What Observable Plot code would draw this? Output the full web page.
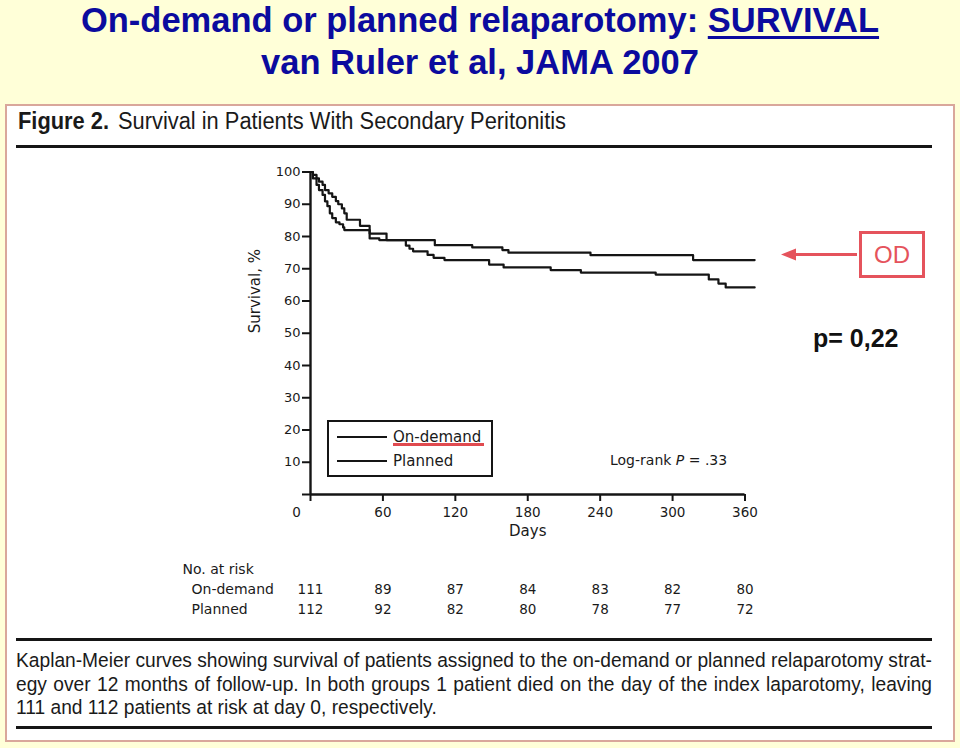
<!DOCTYPE html>
<html>
<head>
<meta charset="utf-8">
<script src="https://cdn.jsdelivr.net/npm/d3@7"></script>
<script src="https://cdn.jsdelivr.net/npm/@observablehq/plot@0.6"></script>
<style>
html, body { margin: 0; padding: 0; }
body { width: 960px; height: 748px; background: #FFFFD8; position: relative; overflow: hidden;
  font-family: "Liberation Sans", Arial, sans-serif; }
.abs { position: absolute; }
#title { left: 0; top: -1px; width: 960px; text-align: center; color: #0b0b9e; font-weight: bold;
  font-size: 34.5px; line-height: 42px; }
#title u { text-decoration-thickness: 3px; text-underline-offset: 4px; }
#panel { left: 5px; top: 104px; width: 946px; height: 634px; border: 2px solid #d9a79b; background: #fff; }
#fighead { left: 18px; top: 107px; font-size: 23px; line-height: 28px; color: #1a1a1a; white-space: nowrap; transform-origin: 0 0; }
#fighead b { margin-right: 3px; }
.rule { left: 16px; width: 916px; height: 3px; background: #151515; }
.cap { left: 16px; font-size: 20.5px; line-height: 24px; color: #1a1a1a; white-space: nowrap; transform-origin: 0 0; }
#chart { left: 0; top: 150px; }
#legend { left: 327px; top: 420px; width: 162px; height: 53px; border: 2.5px solid #151515; }
.lline { width: 50px; height: 2px; background: #151515; left: 337px; }
.ltext { left: 393px; font-family: "DejaVu Sans", sans-serif; font-size: 15px; line-height: 18px; color: #1a1a1a; }
#redline { left: 393px; top: 443px; width: 91px; height: 2.5px; background: #e04a4f; }
#logrank { left: 610px; top: 451px; font-family: "DejaVu Sans", sans-serif; font-size: 14px; line-height: 18px; color: #1a1a1a; white-space: nowrap; }
#odbox { left: 859px; top: 231px; width: 60px; height: 41px; border: 3px solid #e5535c; color: #e5535c;
  font-size: 24px; line-height: 41px; text-align: center; }
#pval { left: 813px; top: 323px; font-weight: bold; font-size: 25px; line-height: 30px; color: #111; white-space: nowrap; }
</style>
</head>
<body>
<div id="title" class="abs">On-demand or planned relaparotomy: <u>SURVIVAL</u><br>van Ruler et al, JAMA 2007</div>
<div id="panel" class="abs"></div>
<div id="fighead" class="abs"><b>Figure 2.</b> Survival in Patients With Secondary Peritonitis</div>
<div class="abs rule" style="top:145px"></div>
<div id="chart" class="abs"></div>
<div id="legend" class="abs"></div>
<div class="abs lline" style="top:436px"></div>
<div class="abs lline" style="top:460px"></div>
<div class="abs ltext" style="top:428px">On-demand</div>
<div class="abs ltext" style="top:452px">Planned</div>
<div id="redline" class="abs"></div>
<div id="logrank" class="abs">Log-rank <i>P</i> = .33</div>
<svg class="abs" style="left:0;top:0" width="960" height="748">
  <line x1="857" y1="254.5" x2="792" y2="254.5" stroke="#e5535c" stroke-width="3"/>
  <polygon points="781,254.5 796,248.5 796,260.5" fill="#e5535c"/>
</svg>
<div id="odbox" class="abs">OD</div>
<div id="pval" class="abs">p= 0,22</div>
<div class="abs rule" style="top:638px"></div>
<div class="abs cap" style="top:648px">Kaplan-Meier curves showing survival of patients assigned to the on-demand or planned relaparotomy strat-</div>
<div class="abs cap" style="top:672px">egy over 12 months of follow-up. In both groups 1 patient died on the day of the index laparotomy, leaving</div>
<div class="abs cap last" style="top:695px">111 and 112 patients at risk at day 0, respectively.</div>
<div class="abs rule" style="top:726px"></div>
<script>
// Kaplan-Meier step points (days, survival %)
const odDays = [0, 2, 5, 7, 10, 12, 15, 18, 21, 23, 26, 28, 30, 41, 49, 63, 103, 134, 159, 164, 232, 317, 368];
const odSurv = [100, 99.1, 98.0, 97.0, 96.0, 94.4, 93.4, 92.3, 91.0, 90.0, 88.7, 87.2, 85.2, 83.3, 80.9, 78.9, 77.3, 76.6, 75.8, 75.0, 74.2, 72.7, 72.7];
const plDays = [0, 2, 5, 7, 10, 12, 14, 16, 18, 21, 24, 27, 28, 49, 57, 79, 82, 85, 97, 102, 111, 148, 160, 199, 224, 286, 330, 338, 344, 368];
const plSurv = [100, 98.0, 96.0, 94.4, 92.9, 90.9, 89.4, 87.2, 85.7, 84.4, 83.8, 82.8, 82.0, 79.4, 78.9, 77.2, 76.2, 75.4, 74.3, 73.4, 72.7, 71.3, 70.4, 69.6, 68.8, 68.2, 66.7, 65.4, 64.2, 64.2];

// Axis ticks
const xTicks = [0, 60, 120, 180, 240, 300, 360];
const yTicks = [0, 10, 20, 30, 40, 50, 60, 70, 80, 90, 100];

// Number at risk
const riskDays = [0, 60, 120, 180, 240, 300, 360];
const odAtRisk = [111, 89, 87, 84, 83, 82, 80];
const plAtRisk = [112, 92, 82, 80, 78, 77, 72];

const od = odDays.map((d, i) => ({day: d, surv: odSurv[i]}));
const pl = plDays.map((d, i) => ({day: d, surv: plSurv[i]}));
const risk = riskDays.map((d, i) => ({day: d, od: odAtRisk[i], pl: plAtRisk[i]}));

const ink = "#151515";
const chart = Plot.plot({
  width: 960,
  height: 480,
  marginLeft: 310,
  marginRight: 215.5,
  marginTop: 21.5,
  marginBottom: 136,
  style: {background: "transparent", fontFamily: "DejaVu Sans, sans-serif", color: "#1a1a1a", overflow: "visible"},
  x: {domain: [0, 360]},
  y: {domain: [0, 100]},
  marks: [
    Plot.axisY(yTicks, {tickSize: 8, tickPadding: 2, fontSize: 13, strokeWidth: 2, stroke: ink,
      tickFormat: d => d === 0 ? "" : d, label: null}),
    Plot.axisX(xTicks, {tickSize: 7, tickPadding: 6, fontSize: 13.5, strokeWidth: 2, stroke: ink,
      tickFormat: d => d === 0 ? "" : d, label: null}),
    Plot.axisX(xTicks.slice(0, 1), {tickSize: 0, tickPadding: 13, dx: -14, fontSize: 13.5, label: null}),
    Plot.ruleX([0], {stroke: ink, strokeWidth: 2.4}),
    Plot.ruleY([0], {stroke: ink, strokeWidth: 2.4}),
    Plot.line(od, {x: "day", y: "surv", curve: "step-after", stroke: ink, strokeWidth: 2.2}),
    Plot.line(pl, {x: "day", y: "surv", curve: "step-after", stroke: ink, strokeWidth: 2.2}),
    Plot.text(["Days"], {frameAnchor: "bottom", dy: 41, fontSize: 15}),
    Plot.text(["Survival, %"], {frameAnchor: "left", dx: -55, rotate: -90, fontSize: 15}),
    Plot.text(["No. at risk"], {frameAnchor: "bottom-left", dx: -128, dy: 79, textAnchor: "start", fontSize: 14}),
    Plot.text(["On-demand"], {frameAnchor: "bottom-left", dx: -119, dy: 99, textAnchor: "start", fontSize: 14}),
    Plot.text(["Planned"], {frameAnchor: "bottom-left", dx: -119, dy: 119, textAnchor: "start", fontSize: 14}),
    Plot.text(risk, {x: "day", text: "od", frameAnchor: "bottom", dy: 99, fontSize: 13.5}),
    Plot.text(risk, {x: "day", text: "pl", frameAnchor: "bottom", dy: 119, fontSize: 13.5})
  ]
});
document.getElementById("chart").appendChild(chart);

// Condensed look for the journal text: scale horizontally to the figure's widths
const head = document.getElementById("fighead");
head.style.transform = `scaleX(${548 / head.getBoundingClientRect().width})`;
const caps = Array.from(document.querySelectorAll(".cap"));
const widths = caps.map(el => el.getBoundingClientRect().width);
const s = Math.min(424 / widths[2], 916 / widths[0], 916 / widths[1]);
caps.forEach((el, i) => {
  el.style.transform = `scaleX(${s})`;
  if (i < 2) {
    el.style.width = (916 / s) + "px";
    el.style.textAlign = "justify";
    el.style.textAlignLast = "justify";
  }
});
</script>
</body>
</html>
